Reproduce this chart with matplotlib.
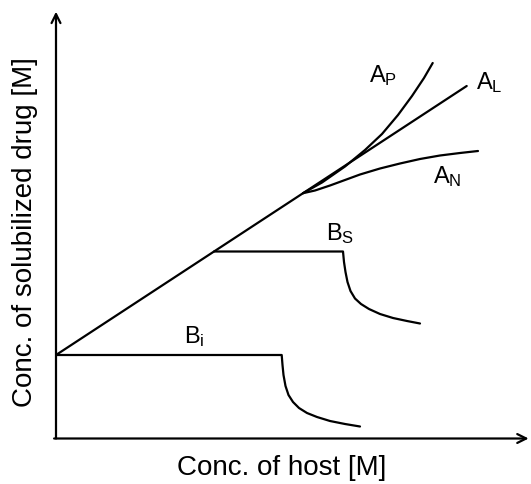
import matplotlib
matplotlib.use("Agg")
import matplotlib.pyplot as plt

plt.rcParams['font.family'] = ['Liberation Sans', 'DejaVu Sans']
plt.rcParams['mathtext.fontset'] = 'custom'
plt.rcParams['mathtext.rm'] = 'Liberation Sans'
plt.rcParams['mathtext.it'] = 'Liberation Sans'

# ---- data (schematic units) ----
al_x = [0, 410.7]
al_y = [83.5, 352.5]

ap_x = [247, 266, 289, 309, 326, 342, 356, 368, 376.7]
ap_y = [245.3, 256, 272, 288.5, 304.5, 323.5, 342.5, 360.5, 375.5]

an_x = [247, 259, 274, 289, 304, 324, 344, 364, 384, 404, 422]
an_y = [245.3, 248, 253, 258.5, 264, 270, 275, 279.5, 283, 285.5, 287.5]

bs_x = [158, 287, 288, 289.5, 291.5, 294.5, 299, 305, 313, 324, 337, 351, 364]
bs_y = [187, 187, 176.5, 166.5, 156.5, 147.5, 140, 134.5, 129.5, 124.5, 120.5, 117.5, 115]

bi_x = [0, 225.7, 226.5, 227.5, 229.5, 232.5, 237, 243, 251, 261, 274, 289, 304]
bi_y = [83.5, 83.5, 73.5, 63.5, 52.5, 43.5, 36.5, 30.5, 25.5, 21.5, 17.5, 14.5, 12]

labels = [r'$\mathrm{A_P}$', r'$\mathrm{A_L}$', r'$\mathrm{A_N}$', r'$\mathrm{B_S}$', r'$\mathrm{B_i}$']
label_x = [313, 420, 377, 270, 128]
label_y = [356.5, 349.5, 255.5, 198.5, 95.5]

W, H = 531, 484
fig = plt.figure(figsize=(W / 100, H / 100), dpi=100)
ax = fig.add_axes([56 / W, (H - 438.5) / H, (W - 56) / W, (438.5 - 11.7) / H])
ax.set_xlim(0, 475)
ax.set_ylim(0, 426.8)
ax.axis('off')

lw = 1.6
for xs, ys in [(al_x, al_y), (ap_x, ap_y), (an_x, an_y), (bs_x, bs_y), (bi_x, bi_y)]:
    ax.plot(xs, ys, color='black', lw=lw, solid_capstyle='round', solid_joinstyle='round')

for t, x, y in zip(labels, label_x, label_y):
    ax.text(x, y, t, fontsize=17, ha='left', va='baseline', color='black')

# axes arrows
ax.annotate('', xy=(0, 1.0), xytext=(0, 0), xycoords='axes fraction',
            arrowprops=dict(arrowstyle='->', lw=1.6, color='black', mutation_scale=16,
                            shrinkA=0, shrinkB=0), annotation_clip=False)
ax.annotate('', xy=(0.995, 0), xytext=(-0.004, 0), xycoords='axes fraction',
            arrowprops=dict(arrowstyle='->', lw=1.6, color='black', mutation_scale=16,
                            shrinkA=0, shrinkB=0), annotation_clip=False)

fig.text(282 / W, 1 - 468 / H, 'Conc. of host [M]', fontsize=20, ha='center', va='center')
fig.text(25 / W, 1 - 232 / H, 'Conc. of solubilized drug [M]', fontsize=20,
         ha='center', va='center', rotation=90)

fig.savefig('out.png', dpi=100)
